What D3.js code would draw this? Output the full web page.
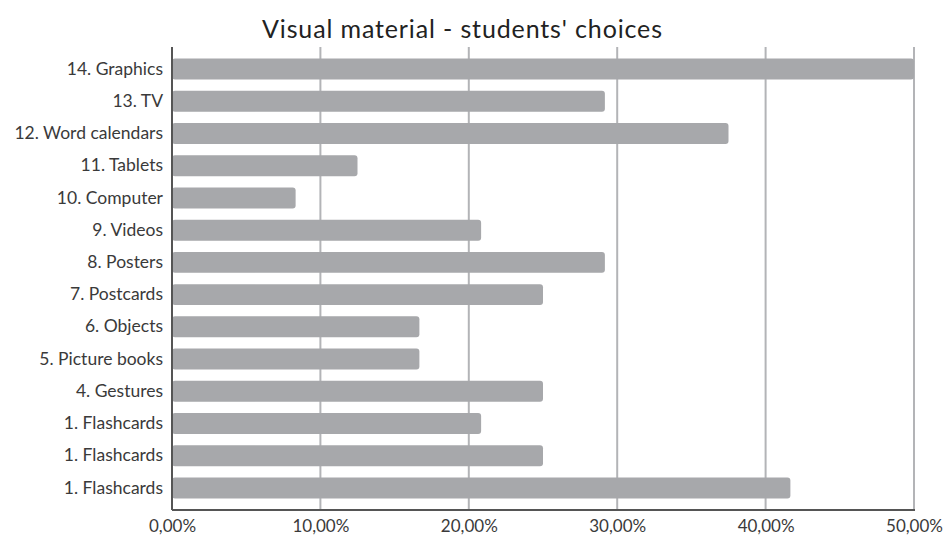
<!DOCTYPE html>
<html><head><meta charset="utf-8">
<script src="https://cdn.jsdelivr.net/npm/d3@7"></script>
<style>body{margin:0;background:#fff;} svg{display:block;}</style>
</head><body>
<svg id="c" width="947" height="536"></svg>
<script>
const title = "Visual material - students' choices";
const categories = ["14. Graphics","13. TV","12. Word calendars","11. Tablets","10. Computer","9. Videos","8. Posters","7. Postcards","6. Objects","5. Picture books","4. Gestures","1. Flashcards","1. Flashcards","1. Flashcards"];
const values = [50.00, 29.17, 37.50, 12.50, 8.33, 20.83, 29.17, 25.00, 16.67, 16.67, 25.00, 20.83, 25.00, 41.67];
const ticks = [0, 10, 20, 30, 40, 50];
const tickLabels = ["0,00%","10,00%","20,00%","30,00%","40,00%","50,00%"];

const svg = d3.select("#c");
const font = "Lato, 'Open Sans', sans-serif";
const pLeft = 172, pRight = 914, pTop = 47, pBottom = 510;
const x = d3.scaleLinear().domain([0, 50]).range([pLeft, pRight]);
const idx = categories.map((d, i) => i);
const y = d3.scaleBand().domain(idx).range([pTop, pBottom]).paddingInner(0.35).paddingOuter(0.36);

// gridlines
svg.append("g").selectAll("line").data(ticks.slice(1)).join("line")
  .attr("x1", d => x(d)).attr("x2", d => x(d))
  .attr("y1", pTop).attr("y2", pBottom)
  .attr("stroke", "#b3b4b7").attr("stroke-width", 2);

// bars
svg.append("g").selectAll("rect").data(values).join("rect")
  .attr("x", x(0)).attr("y", (d, i) => y(i))
  .attr("width", d => x(d) - x(0)).attr("height", y.bandwidth())
  .attr("rx", 3).attr("fill", "#a7a8ab");

// axes lines
svg.append("line").attr("x1", pLeft).attr("x2", pLeft).attr("y1", pTop).attr("y2", pBottom)
  .attr("stroke", "#555").attr("stroke-width", 2);
svg.append("line").attr("x1", pLeft).attr("x2", pRight + 1).attr("y1", pBottom).attr("y2", pBottom)
  .attr("stroke", "#555").attr("stroke-width", 2);

// y labels
const yAxis = d3.axisLeft(y).tickFormat(i => categories[i]).tickSize(0).tickPadding(9);
const gy = svg.append("g").attr("transform", `translate(${pLeft},0)`).call(yAxis);
gy.select(".domain").remove();
gy.selectAll("text").attr("font-family", font).attr("font-size", 17.5).attr("fill", "#3a3a3a");

// x labels
const xAxis = d3.axisBottom(x).tickValues(ticks).tickFormat((d, i) => tickLabels[i]).tickSize(0).tickPadding(10);
const gx = svg.append("g").attr("transform", `translate(0,${pBottom})`).call(xAxis);
gx.select(".domain").remove();
gx.selectAll("text").attr("font-family", font).attr("font-size", 17).attr("fill", "#3a3a3a");

// title
svg.append("text").attr("x", 462).attr("y", 38).attr("text-anchor", "middle")
  .attr("font-family", font).attr("font-size", 25).attr("fill", "#222")
  .attr("textLength", 400).attr("lengthAdjust", "spacing")
  .text(title);
</script>
</body></html>
